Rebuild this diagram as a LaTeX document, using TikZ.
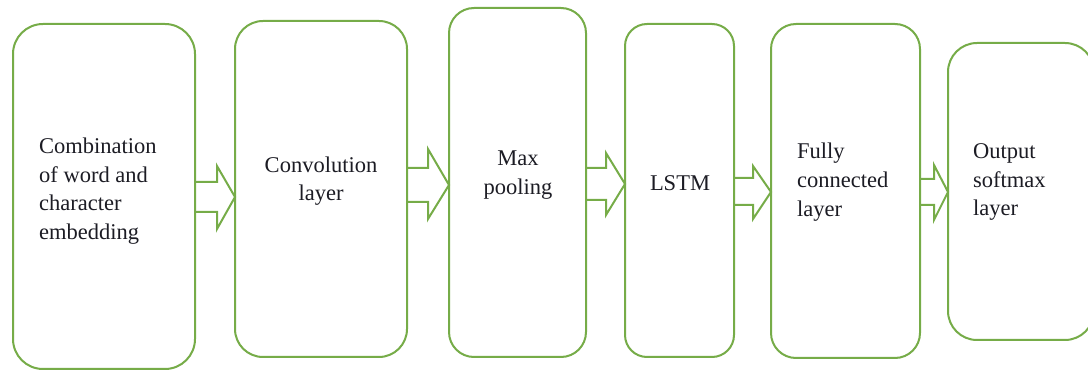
\documentclass[tikz,border=0pt]{standalone}
\usepackage{fontspec}
\setmainfont{Liberation Serif}
\usetikzlibrary{calc}

\definecolor{layergreen}{RGB}{118,172,72}
\definecolor{labeltext}{RGB}{28,28,36}

\tikzset{
  layerbox/.style={draw=layergreen, line width=2pt, fill=white,
    rectangle, inner sep=0pt, outer sep=0pt},
  layertext/.style={text=labeltext, inner sep=0pt,
    font=\fontsize{22.5}{28.7}\selectfont},
  flowarrow/.style={draw=layergreen, line width=2pt, line join=miter},
}

% block arrow from the east side of #1 to the west side of #2
% #3 shaft top, #4 shaft bottom, #5 head top, #6 head bottom, #7 head start x, #8 tip y
\newcommand{\flowarrowpath}[8]{%
  \draw[flowarrow] ($(#1.east |- 0,#3)$) -- (#7,#3) -- (#7,#5)
    -- ($(#2.west |- 0,#8)$) -- (#7,#6) -- (#7,#4) -- ($(#1.east |- 0,#4)$);
}

\begin{document}
\begin{tikzpicture}[x=1pt, y=-1pt]
  \useasboundingbox (0,0) rectangle (1088,371);

  % layer boxes
  \node[layerbox, rounded corners=30pt, minimum width=182pt, minimum height=345pt] (emb) at (104,196.5) {};
  \node[layerbox, rounded corners=28pt, minimum width=172pt, minimum height=336pt] (conv) at (321,189) {};
  \node[layerbox, rounded corners=25pt, minimum width=137pt, minimum height=349pt] (pool) at (517.5,182.5) {};
  \node[layerbox, rounded corners=22pt, minimum width=109pt, minimum height=333pt] (lstm) at (679.5,190.5) {};
  \node[layerbox, rounded corners=25pt, minimum width=149pt, minimum height=334pt] (fc) at (845.5,191) {};
  \node[layerbox, rounded corners=29pt, minimum width=146pt, minimum height=297pt] (out) at (1021,191.5) {};

  % labels
  \node[layertext, align=left, anchor=west] (embtxt) at (39,191) {Combination\\of word and\\character\\embedding};
  \node[layertext, align=center] (convtxt) at (321,181) {Convolution\\layer};
  \node[layertext, align=center] (pooltxt) at (518,175) {Max\\pooling};
  \node[layertext, align=center] (lstmtxt) at (680,183) {LSTM};
  \node[layertext, align=left, anchor=west] (fctxt) at (797,182) {Fully\\connected\\layer};
  \node[layertext, align=left, anchor=west] (outtxt) at (973,182) {Output\\softmax\\layer};

  % block arrows between the layers
  \flowarrowpath{emb}{conv}{182}{212}{166}{229}{217}{197}
  \flowarrowpath{conv}{pool}{168}{202}{149}{219}{428}{185}
  \flowarrowpath{pool}{lstm}{168}{200}{153}{215}{606}{184}
  \flowarrowpath{lstm}{fc}{178}{205}{166}{219}{753}{192}
  \flowarrowpath{fc}{out}{179}{205}{165}{220}{934}{192}
\end{tikzpicture}
\end{document}
